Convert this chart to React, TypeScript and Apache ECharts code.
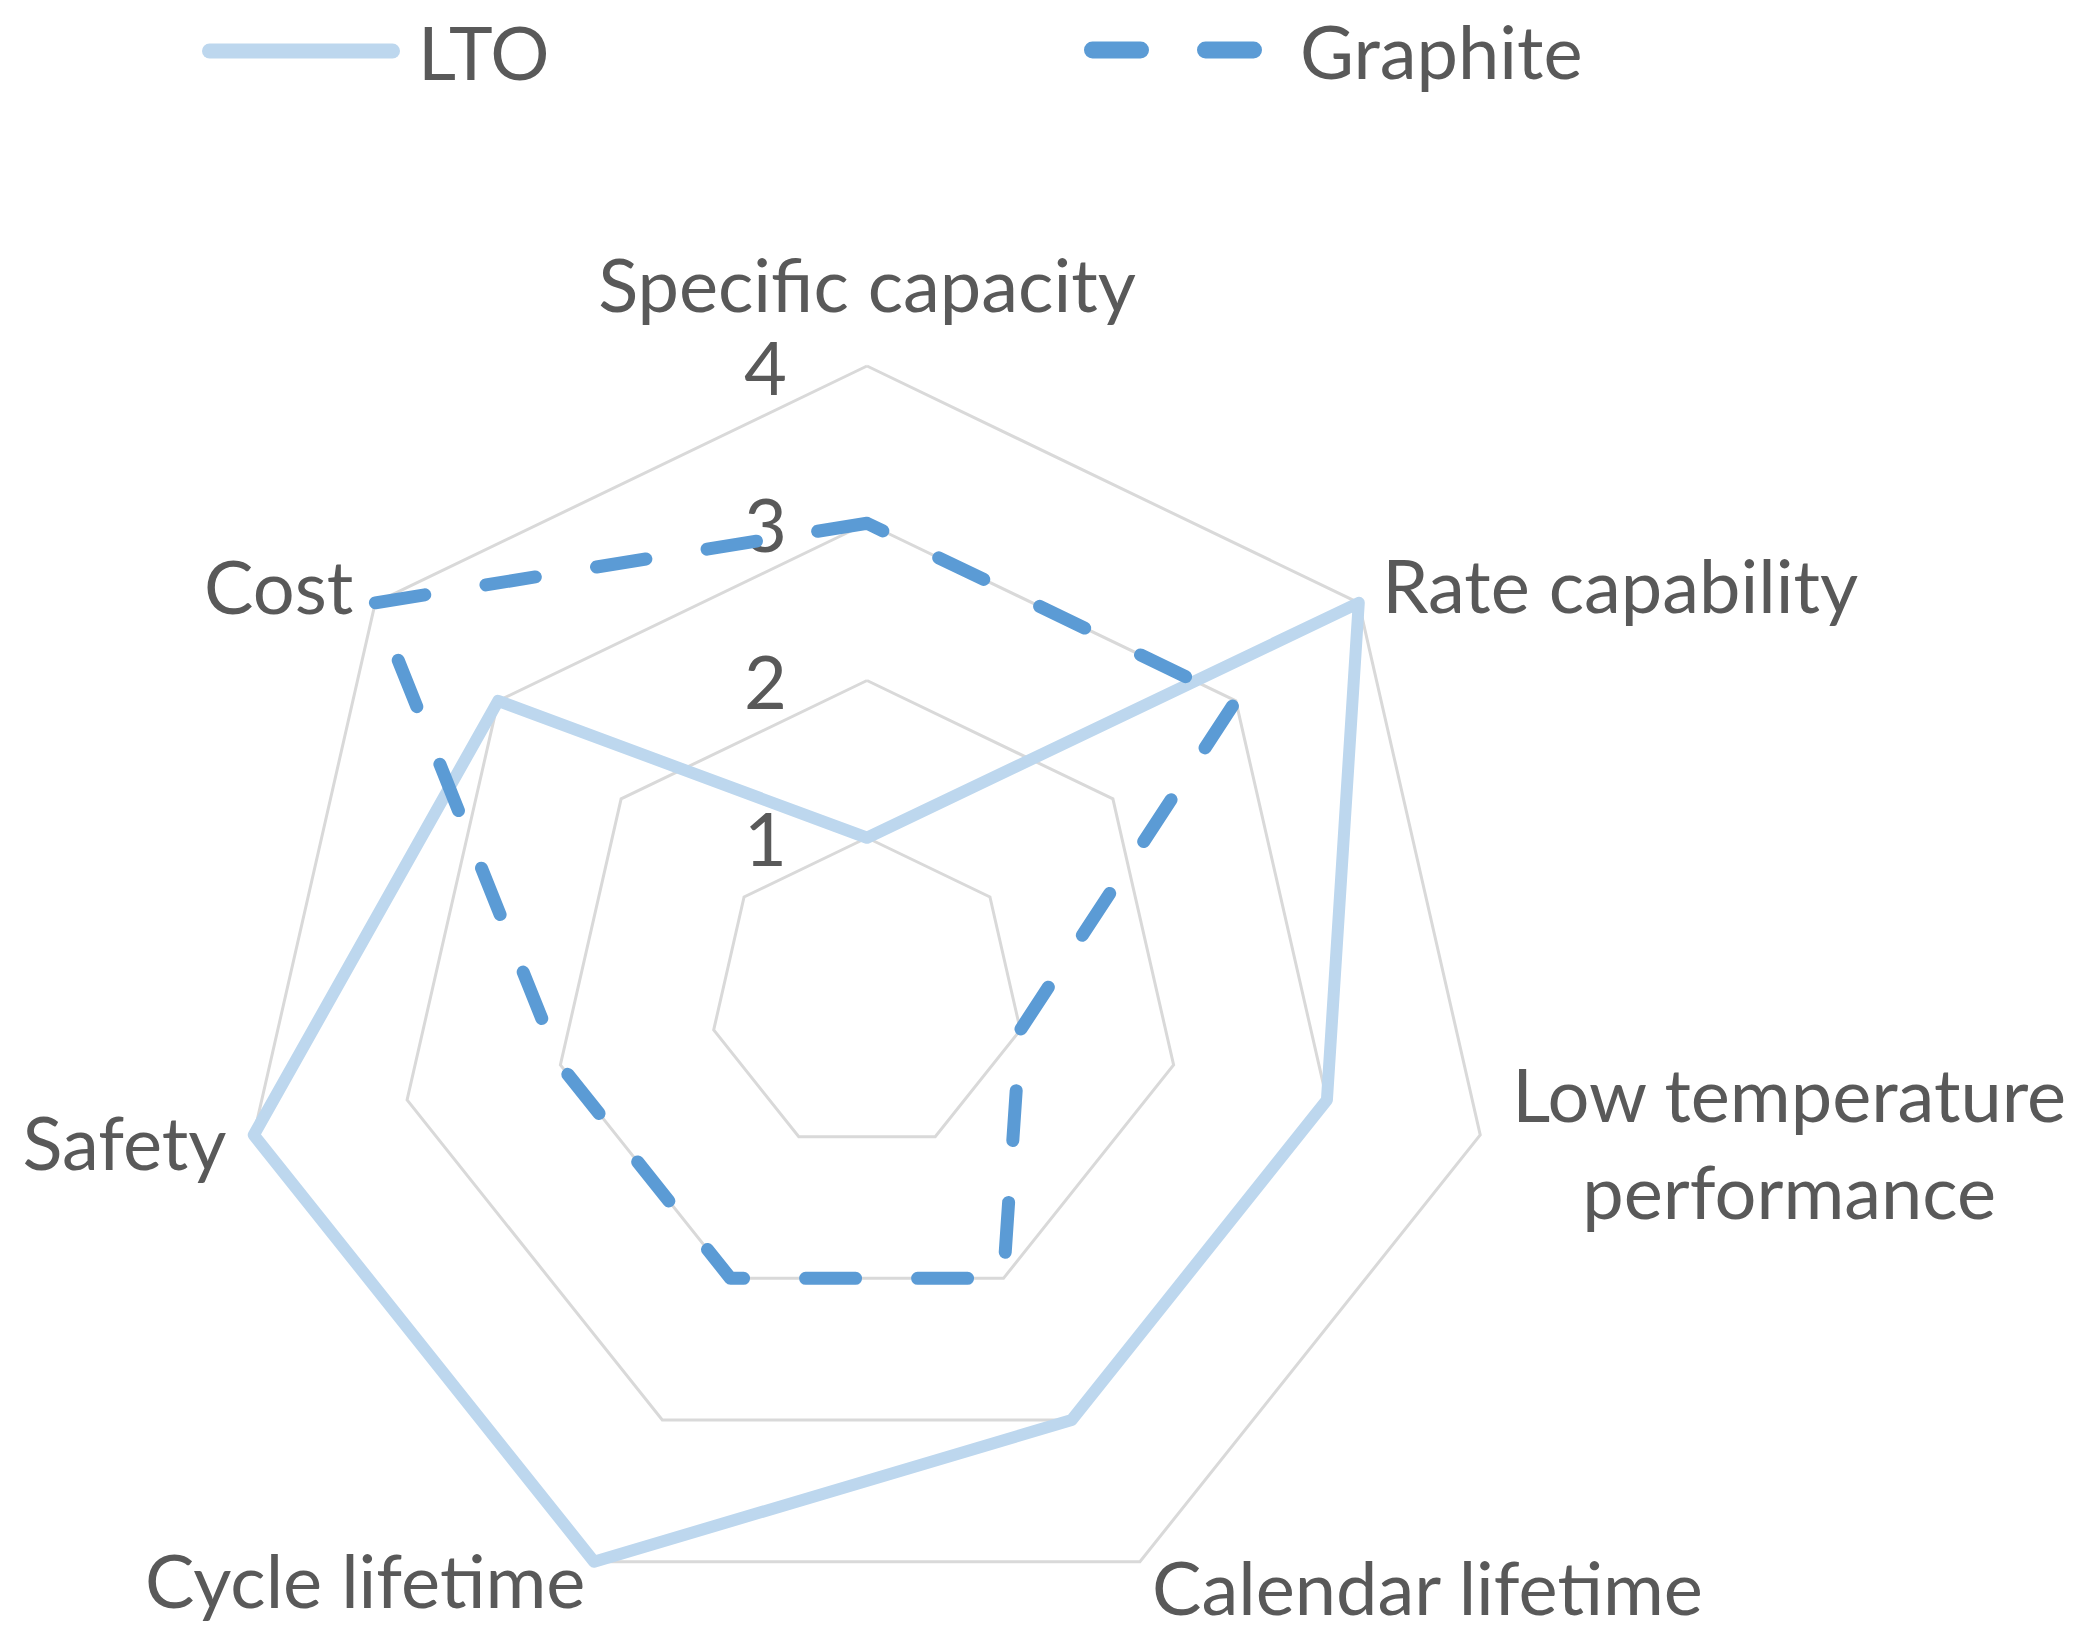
import React, { useEffect, useRef } from 'react';
import * as echarts from 'echarts';

// ---- data (clockwise from top, as in the reference) ----
const CATEGORIES = [
  'Specific capacity',
  'Rate capability',
  'Low temperature\nperformance',
  'Calendar lifetime',
  'Cycle lifetime',
  'Safety',
  'Cost',
];
const AXIS_MIN = 0;
const AXIS_MAX = 4;
const LTO_VALUES = [1, 4, 3, 3, 4, 4, 3];
const GRAPHITE_VALUES = [3, 3, 1, 2, 2, 2, 4];
const SERIES_NAMES = ['LTO', 'Graphite'];

// ---- layout (name gaps per category) ----
const NAME_GAP: Record<string, number> = {
  'Specific capacity': 46,
  'Rate capability': 30,
  'Low temperature\nperformance': 32,
  'Calendar lifetime': 28,
  'Cycle lifetime': 20,
  Safety: 28,
  Cost: 28,
};

const FONT = 'Lato';
const FONT_SIZE = 74;
const TEXT_COLOR = '#595959';
const LTO_COLOR = '#BDD7EE';
const GRAPHITE_COLOR = '#5B9BD5';

// ECharts lays radar indicators out counter-clockwise; reorder so they read clockwise.
const ORDER = CATEGORIES.map((_, i) => (i === 0 ? 0 : CATEGORIES.length - i));

const LTO_ICON =
  'path://M7.5,0H190.5A7.5,7.5,0,0,1,190.5,15H7.5A7.5,7.5,0,0,1,7.5,0Z';
const GRAPHITE_ICON =
  'path://M8.5,0H56.5A8.5,8.5,0,0,1,56.5,17H8.5A8.5,8.5,0,0,1,8.5,0ZM121.5,0H169.5A8.5,8.5,0,0,1,169.5,17H121.5A8.5,8.5,0,0,1,121.5,0Z';

export default function App() {
  const ref = useRef<HTMLDivElement>(null);

  useEffect(() => {
    if (!ref.current) return;
    const chart = echarts.init(ref.current, undefined, { renderer: 'svg' });

    const indicator = ORDER.map((idx, k) => ({
      name: CATEGORIES[idx],
      min: AXIS_MIN,
      max: AXIS_MAX,
      nameGap: NAME_GAP[CATEGORIES[idx]],
      ...(k === 0 ? {} : { axisLabel: { show: false } }),
    }));

    const option: any = {
      animation: false,
      backgroundColor: '#ffffff',
      legend: [
        {
          left: 197,
          top: 9,
          itemWidth: 198,
          itemHeight: 15,
          selectedMode: false,
          data: [
            {
              name: SERIES_NAMES[0],
              icon: LTO_ICON,
              itemStyle: { color: LTO_COLOR, borderWidth: 0 },
            },
          ],
          textStyle: {
            color: TEXT_COLOR,
            fontSize: FONT_SIZE,
            fontFamily: FONT,
            padding: [0, 0, 0, 13],
          },
        },
        {
          left: 1079,
          top: 8,
          itemWidth: 178,
          itemHeight: 17,
          selectedMode: false,
          data: [
            {
              name: SERIES_NAMES[1],
              icon: GRAPHITE_ICON,
              itemStyle: { color: GRAPHITE_COLOR, borderWidth: 0 },
            },
          ],
          textStyle: {
            color: TEXT_COLOR,
            fontSize: FONT_SIZE,
            fontFamily: FONT,
            padding: [0, 0, 0, 33],
          },
        },
      ],
      radar: {
        center: [867, 995],
        radius: 629,
        startAngle: 90,
        shape: 'polygon',
        splitNumber: 4,
        indicator,
        axisName: {
          color: TEXT_COLOR,
          fontSize: FONT_SIZE,
          fontFamily: FONT,
          formatter: (name: string) =>
            name.indexOf('\n') >= 0
              ? name
                  .split('\n')
                  .map((s) => `{c|${s}}`)
                  .join('\n')
              : name,
          rich: {
            c: {
              align: 'center',
              color: TEXT_COLOR,
              fontSize: FONT_SIZE,
              fontFamily: FONT,
              lineHeight: 97,
            },
          },
        },
        axisLine: { show: false },
        axisTick: { show: false },
        splitArea: { show: false },
        splitLine: { lineStyle: { color: '#D9D9D9', width: 3 } },
        axisLabel: {
          show: true,
          showMinLabel: false,
          margin: 80,
          color: TEXT_COLOR,
          fontSize: FONT_SIZE,
          fontFamily: FONT,
          formatter: (v: number) => (v === 0 ? '' : String(v)),
        },
      },
      series: [
        {
          type: 'radar',
          symbol: 'none',
          data: [
            {
              name: SERIES_NAMES[0],
              value: ORDER.map((i) => LTO_VALUES[i]),
              itemStyle: { color: LTO_COLOR },
              lineStyle: { color: LTO_COLOR, width: 12, join: 'round', cap: 'round' },
            },
            {
              name: SERIES_NAMES[1],
              value: ORDER.map((i) => GRAPHITE_VALUES[i]),
              itemStyle: { color: GRAPHITE_COLOR },
              lineStyle: {
                color: GRAPHITE_COLOR,
                width: 13,
                type: [50, 62],
                cap: 'round',
                join: 'round',
              },
            },
          ],
        },
      ],
    };

    chart.setOption(option);
    return () => chart.dispose();
  }, []);

  return (
    <div
      ref={ref}
      style={{ position: 'fixed', left: 0, top: 0, width: 2090, height: 1645, background: '#fff' }}
    />
  );
}
